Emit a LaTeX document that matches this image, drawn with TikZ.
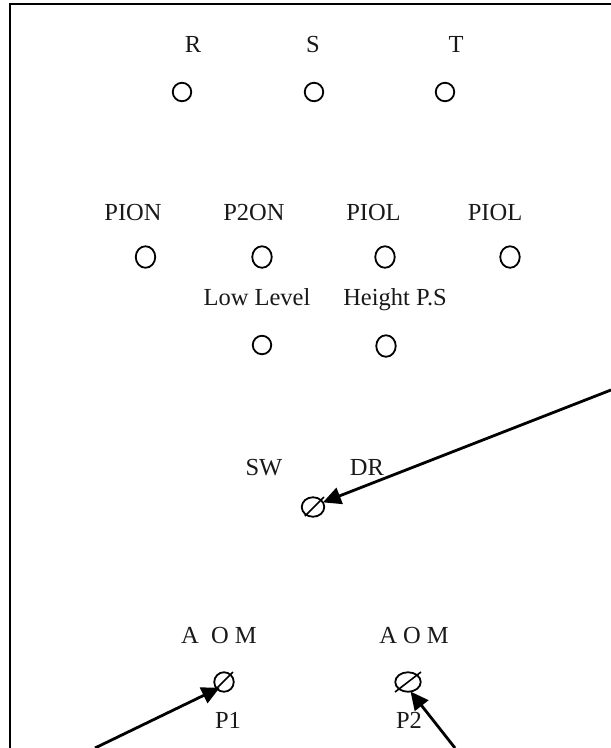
\documentclass[tikz,border=0pt]{standalone}
\usepackage{fontspec}
\setmainfont{Liberation Serif}
\usetikzlibrary{shapes.geometric,arrows.meta}
\tikzset{
  lamp/.style={circle,draw=black,line width=1.8pt,minimum size=18.5pt,inner sep=0pt,outer sep=0pt},
  talllamp/.style={ellipse,draw=black,line width=1.8pt,minimum width=19.5pt,minimum height=21.5pt,inner sep=0pt,outer sep=0pt},
  knob/.style={ellipse,draw=black,line width=1.8pt,inner sep=0pt,outer sep=0pt,minimum height=19.5pt},
  lbl/.style={font=\fontsize{24.5}{29}\selectfont,text=black!90,inner sep=0pt,text height=15.5pt,text depth=4.5pt},
  slash/.style={line width=1.6pt},
  pointer/.style={line width=2.8pt,-{Triangle[length=18pt,width=17pt]}},
  frame/.style={line width=2.4pt}
}
\begin{document}
\begin{tikzpicture}[x=1pt,y=-1pt]
\useasboundingbox (0,0) rectangle (611,748);
\coordinate (ftl) at (10,4);
\coordinate (fbl) at (10,748);
\coordinate (ftr) at (611,4);
\draw[frame] (fbl) -- (ftl) -- (ftr);
\node[lamp] (r) at (182,92) {};
\node[lamp] (s) at (314,92) {};
\node[lamp] (t) at (445,92) {};
\node[talllamp] (a) at (145.5,257) {};
\node[talllamp] (b) at (262,257) {};
\node[talllamp] (c) at (385,257) {};
\node[talllamp] (d) at (510,257) {};
\node[lamp] (e) at (262,345) {};
\node[talllamp] (f) at (386,346) {};
\node[lbl] at (193,46.5) {R};
\node[lbl] at (313,46.5) {S};
\node[lbl] at (456,46.5) {T};
\node[lbl] at (133,214.5) {PION};
\node[lbl] at (254,214.5) {P2ON};
\node[lbl] at (373.5,214.5) {PIOL};
\node[lbl] at (495,214.5) {PIOL};
\node[lbl] at (257,299.5) {Low Level};
\node[lbl] at (395,299.5) {Height P.S};
\node[lbl] at (264,469.5) {SW};
\node[lbl] at (367,469.5) {DR};
\node[lbl] at (219,637.5) {A\ \ O M};
\node[lbl] at (414,637.5) {A O M};
\node[lbl] at (228,722.5) {P1};
\node[lbl] at (409,722.5) {P2};
\node[knob,minimum width=22.5pt] (sw) at (313,507) {};
\node[knob,minimum width=19.5pt] (p1) at (224,682) {};
\node[knob,minimum width=25.5pt] (p2) at (408,682) {};
\draw[slash] (sw.center) ++(-8,9) -- ++(19,-19);
\draw[slash] (p1.center) ++(-11,10) -- ++(20,-20);
\draw[slash] (p2.center) ++(-13,10) -- ++(26,-20);
\coordinate (swfrom) at (611,390);
\coordinate (p1from) at (95,748);
\coordinate (p2from) at (455,748);
\draw[pointer] (swfrom) -- (sw.25);
\draw[pointer,shorten >=-3pt] (p1from) -- (p1.225);
\draw[pointer] (p2from) -- (p2.285);
\end{tikzpicture}
\end{document}
